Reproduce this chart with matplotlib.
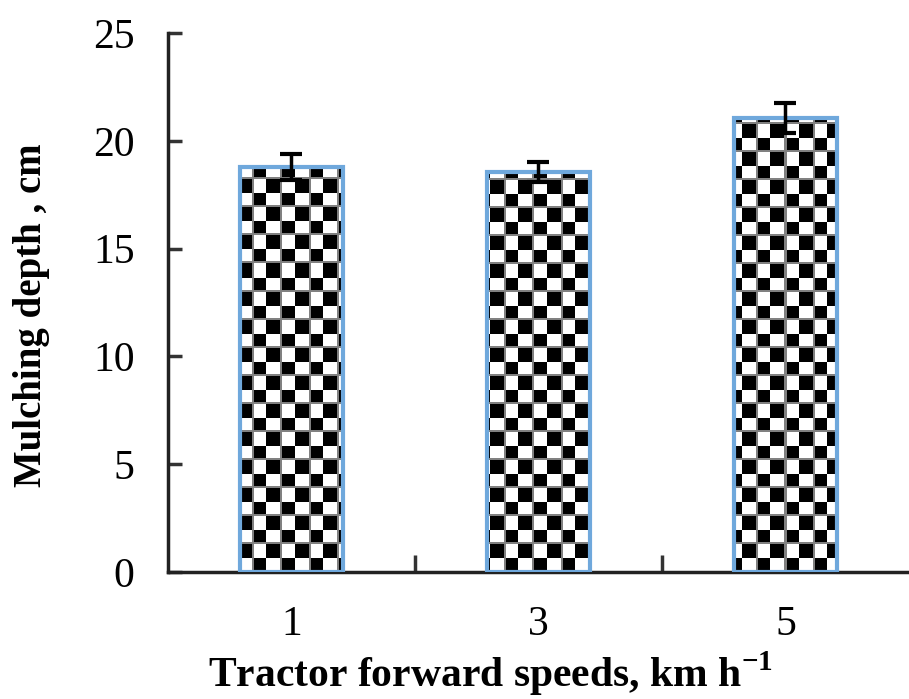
import numpy as np
import matplotlib
matplotlib.use("Agg")
import matplotlib.pyplot as plt

speeds = ["1", "3", "5"]
depth = [18.8, 18.55, 21.05]
err = [0.6, 0.45, 0.7]

plt.rcParams['font.family'] = ['Liberation Serif', 'DejaVu Serif']
plt.rcParams['mathtext.fontset'] = 'custom'
plt.rcParams['mathtext.rm'] = 'Liberation Serif'
plt.rcParams['mathtext.bf'] = 'Liberation Serif:bold'

fig = plt.figure(figsize=(9.09, 6.99), dpi=100)
ax = fig.add_axes([0.1848, 0.1817, 0.8152, 0.7711])

x = np.arange(len(speeds))
bars = ax.bar(x, depth, width=0.42, facecolor='none', edgecolor='#6fa8dc',
              linewidth=3, zorder=3)
ax.errorbar(x, depth, yerr=err, fmt='none', ecolor='black', elinewidth=2.5,
            capsize=8, capthick=3, zorder=4)

# checkerboard fill, clipped to each bar
h, w = 539, 741
yy, xx = np.mgrid[0:h, 0:w]
cell = 14
board = np.where(((xx // cell) + (yy // cell)) % 2 == 0, 0.0, 1.0)
board[(yy % (2 * cell) < 2) | (xx % (2 * cell) < 2)] = 0.5
for b in bars:
    im = ax.imshow(board, cmap='gray', vmin=0, vmax=1, extent=(-0.5, 2.5, 0, 25),
                   origin='lower', aspect='auto', interpolation='nearest', zorder=2)
    im.set_clip_path(b)

ax.set_xlim(-0.5, 2.5)
ax.set_ylim(0, 25)
ax.set_yticks([0, 5, 10, 15, 20, 25])
ax.set_xticks([0.5, 1.5])
ax.set_xticklabels([])
ax.set_xticks(x, minor=True)
ax.set_xticklabels(speeds, minor=True)
ax.tick_params(axis='x', which='major', direction='in', length=12, width=2.5, color='#333333')
ax.tick_params(axis='x', which='minor', length=0, pad=24, labelsize=30)
ax.tick_params(axis='y', direction='in', length=10, width=2.5, color='#333333',
               pad=24, labelsize=30)

for s in ['top', 'right']:
    ax.spines[s].set_visible(False)
for s in ['left', 'bottom']:
    ax.spines[s].set_linewidth(2.5)
    ax.spines[s].set_color('#222222')

ax.set_ylabel('Mulching depth , cm', fontsize=28, fontweight='bold',
              ha='center', va='center')
ax.yaxis.set_label_coords(-0.184, 0.476)
ax.set_xlabel(r'Tractor forward speeds, km h$^{\mathbf{-1}}$', fontsize=30,
              fontweight='bold', va='center')
ax.xaxis.set_label_coords(0.435, -0.188)

fig.savefig('out.png', dpi=100)
